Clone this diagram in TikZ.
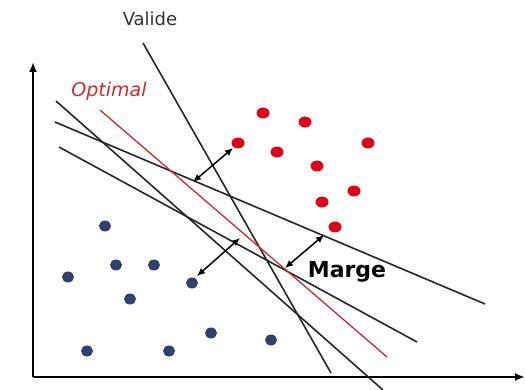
\documentclass[tikz,border=0pt]{standalone}
\usepackage{fontspec}
\setmainfont{DejaVu Sans}
\usetikzlibrary{arrows.meta,shapes.geometric}
\definecolor{rouge}{RGB}{216,4,26}
\definecolor{bleu}{RGB}{50,64,110}
\definecolor{rougetrait}{RGB}{196,48,48}
\begin{document}
\begin{tikzpicture}[x=1pt, y=-1pt, >={Latex[length=8pt,width=7pt]},
    ptrouge/.style={ellipse, fill=rouge, minimum width=13pt, minimum height=11pt, inner sep=0pt},
    ptbleu/.style={ellipse, fill=bleu, minimum width=12pt, minimum height=11pt, inner sep=0pt},
    hyper/.style={line width=1.6pt, black!85}]
    \useasboundingbox (0,0) rectangle (525,390);

    % 1. Axes
    \coordinate (O) at (33,377);
    \coordinate (Y) at (33,62);
    \coordinate (X) at (525,377);
    \draw[line width=2pt, -{Latex[length=10pt,width=8pt]}] (O) -- (Y);
    \draw[line width=2pt, -{Latex[length=10pt,width=8pt]}] (O) -- (X);

    % 2. Les points des deux classes
    \foreach \px/\py [count=\i] in {263/113, 305/122, 238/143, 368/143, 277/152,
                                    317/166, 354/191, 322/202, 335/227}
        \node[ptrouge] (r\i) at (\px,\py) {};
    \foreach \px/\py [count=\i] in {105/226, 116/265, 154/265, 68/277, 192/283,
                                    130/299, 211/333, 87/351, 169/351, 271/340}
        \node[ptbleu] (b\i) at (\px,\py) {};

    % 3. Hyperplans separateurs
    \coordinate (v1) at (143,43);  \coordinate (v2) at (331,373);
    \coordinate (a1) at (56,101);  \coordinate (a2) at (383,390);
    \coordinate (s1) at (55,122);  \coordinate (s2) at (485,304);
    \coordinate (i1) at (59,147);  \coordinate (i2) at (417,342);
    \coordinate (o1) at (100,110); \coordinate (o2) at (387,357);
    \draw[hyper] (v1) -- (v2);
    \draw[hyper] (a1) -- (a2);
    \draw[hyper] (s1) -- (s2);
    \draw[hyper] (i1) -- (i2);
    \draw[line width=1.3pt, rougetrait] (o1) -- (o2);

    % 4. Fleches de marge
    \coordinate (m1) at (193,182); \coordinate (m2) at (233,148);
    \coordinate (m3) at (197,276); \coordinate (m4) at (240,238);
    \coordinate (m5) at (285,268); \coordinate (m6) at (324,235);
    \draw[line width=1.5pt, <->] (m1) -- (m2);
    \draw[line width=1.5pt, <->] (m3) -- (m4);
    \draw[line width=1.5pt, <->] (m5) -- (m6);

    % 5. Etiquettes
    \node[anchor=base, font=\fontsize{18}{18}\selectfont, black!80] (valide) at (150,26) {Valide};
    \node[anchor=base, font=\fontsize{19}{19}\selectfont\itshape, rougetrait] (optimal) at (109,97) {Optimal};
    \node[anchor=base, font=\fontsize{22}{22}\selectfont\bfseries] (marge) at (347,278) {Marge};
\end{tikzpicture}
\end{document}
